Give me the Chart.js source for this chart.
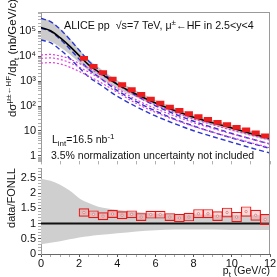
<!DOCTYPE html>
<html>
<head>
<meta charset="utf-8">
<script src="https://cdn.jsdelivr.net/npm/chart.js@4.4.0/dist/chart.umd.min.js"></script>
<style>
  html, body { margin: 0; padding: 0; background: #fff; }
  #wrap { position: relative; width: 277px; height: 277px; overflow: hidden; }
  .pane { position: absolute; left: 0; }
  #top { top: 0; }
  #bot { top: 160px; }
</style>
</head>
<body>
<div id="wrap">
  <div class="pane" id="top"><canvas id="spec" width="277" height="170"></canvas></div>
  <div class="pane" id="bot"><canvas id="ratio" width="277" height="117"></canvas></div>
</div>
<script>
const FONT = '"Liberation Sans", Arial, sans-serif';

// FONLL curves, sampled in pt (GeV/c)
const curvePt  = [0, 0.5, 1, 1.5, 2, 2.5, 3, 4, 5, 6, 7, 8, 9, 10, 11, 12];
const fonllC   = [141000, 105000, 55000, 25100, 10500, 4470, 2400, 741, 295, 132, 66, 35.5, 21.4, 13.2, 7.9, 5.0];
const fonllHi  = [347000, 251000, 125000, 52000, 19000, 7400, 3700, 1070, 407, 175, 87, 46, 27.5, 17, 10, 6.3];
const fonllLo  = [45700, 39000, 23000, 12000, 5600, 2570, 1480, 500, 219, 102, 52, 28, 17, 10.5, 6.3, 4.0];
const charmC   = [132000, 98000, 48000, 20000, 7600, 2950, 1510, 417, 151, 63, 30, 15.8, 8.9, 5.2, 3.2, 2.0];
const charmHi  = [324000, 245000, 120000, 47900, 17400, 6310, 3020, 759, 257, 102, 47.9, 24.5, 13.8, 7.9, 4.8, 3.0];
const charmLo  = [44700, 34700, 18200, 8320, 3470, 1480, 813, 245, 93, 40, 19.5, 10.2, 5.9, 3.5, 2.1, 1.3];
const beautyC  = [8130, 8510, 7410, 5500, 3630, 2290, 1410, 500, 178, 79, 40, 21.4, 12.6, 7.6, 4.8, 3.0];
const beautyHi = [11200, 11700, 10200, 7760, 5130, 3310, 2040, 724, 257, 112, 56, 30, 17.8, 10.7, 6.8, 4.3];
const beautyLo = [5250, 5500, 4900, 3630, 2450, 1580, 1000, 355, 126, 56, 28, 15.1, 8.9, 5.4, 3.4, 2.1];

// FONLL relative uncertainty for the ratio panel
const ratioBandHi = [2.47, 2.40, 2.27, 2.08, 1.83, 1.67, 1.55, 1.45, 1.38, 1.33, 1.31, 1.30, 1.29, 1.28, 1.27, 1.27];
const ratioBandLo = [0.32, 0.37, 0.42, 0.48, 0.54, 0.58, 0.62, 0.68, 0.74, 0.78, 0.80, 0.80, 0.80, 0.79, 0.79, 0.79];

// measured points (bin centres)
const binPt    = [2.25, 2.75, 3.25, 3.75, 4.25, 4.75, 5.25, 5.75, 6.25, 6.75, 7.25, 7.75, 8.25, 8.75, 9.25, 9.75, 10.25, 10.75, 11.25, 11.75];
const dataVal  = [8100, 3900, 2200, 1200, 710, 450, 290, 190, 130, 90, 66, 49, 37, 29, 22, 18, 14, 11, 8.4, 6.3];
const dataSys  = [0.25, 0.25, 0.25, 0.25, 0.25, 0.25, 0.25, 0.25, 0.25, 0.25, 0.25, 0.25, 0.25, 0.25, 0.25, 0.25, 0.25, 0.25, 0.25, 0.25];
const ratioVal = [1.36, 1.30, 1.24, 1.31, 1.27, 1.30, 1.21, 1.29, 1.29, 1.21, 1.18, 1.21, 1.32, 1.32, 1.24, 1.36, 1.21, 1.39, 1.27, 1.13];
const ratioSys = [0.14, 0.13, 0.13, 0.13, 0.13, 0.13, 0.13, 0.13, 0.13, 0.13, 0.14, 0.14, 0.15, 0.15, 0.16, 0.16, 0.17, 0.17, 0.18, 0.18];

const unityPt = [0, 12];
const unityVal = [1, 1];

const logTickLabels = ['1', '10', '10\u00b2', '10\u00b3', '10\u2074', '10\u2075'];
const ratioTickLabels = ['0', '0.5', '1', '1.5', '2', '2.5'];
const ptTickLabels = ['0', '2', '4', '6', '8', '10', '12'];

const xy = (xs, ys) => xs.map((x, i) => ({ x, y: ys[i] }));

// text with sub/superscripts: parts = [[text, 'n'|'u'|'d'], ...]
function rich(ctx, parts, x, y, size, align) {
  const fontFor = m => (m === 'n' ? size : Math.round(size * 0.72)) + 'px ' + FONT;
  let w = 0;
  parts.forEach(([t, m]) => { ctx.font = fontFor(m); w += ctx.measureText(t).width; });
  let cx = align === 'center' ? x - w / 2 : align === 'right' ? x - w : x;
  ctx.textAlign = 'left';
  ctx.textBaseline = 'alphabetic';
  parts.forEach(([t, m]) => {
    ctx.font = fontFor(m);
    const dy = m === 'u' ? -size * 0.42 : m === 'd' ? size * 0.28 : 0;
    ctx.fillText(t, cx, y + dy);
    cx += ctx.measureText(t).width;
  });
}

const specDeco = {
  id: 'specDeco',
  afterDraw(chart) {
    const { ctx, chartArea: a } = chart;
    ctx.save();
    ctx.strokeStyle = '#9a9a9a';
    ctx.lineWidth = 1;
    ctx.beginPath();
    ctx.moveTo(a.left, a.top + 0.5); ctx.lineTo(a.right, a.top + 0.5);
    ctx.moveTo(a.right - 0.5, a.top); ctx.lineTo(a.right - 0.5, a.bottom + 4);
    ctx.stroke();
    ctx.fillStyle = '#111';
    rich(ctx, [['ALICE pp  \u221as=7 TeV, \u03bc', 'n'], ['\u00b1', 'u'], ['\u2190HF in 2.5<y<4', 'n']], 64, 29, 10.7, 'left');
    rich(ctx, [['L', 'n'], ['int', 'd'], ['=16.5 nb', 'n'], ['-1', 'u']], 52, 143, 10.5, 'left');
    rich(ctx, [['3.5% normalization uncertainty not included', 'n']], 51, 159, 10.5, 'left');
    ctx.translate(16, 58);
    ctx.rotate(-Math.PI / 2);
    rich(ctx, [['d\u03c3', 'n'], ['\u03bc\u00b1\u2190HF', 'u'], ['/dp', 'n'], ['t', 'd'], [' (nb/GeV/c)', 'n']], 0, 0, 11.5, 'center');
    ctx.restore();
  }
};

const ratioDeco = {
  id: 'ratioDeco',
  afterDraw(chart) {
    const { ctx, chartArea: a } = chart;
    ctx.save();
    ctx.strokeStyle = '#9a9a9a';
    ctx.lineWidth = 1;
    ctx.beginPath();
    ctx.moveTo(a.right - 0.5, 0); ctx.lineTo(a.right - 0.5, a.bottom);
    ctx.stroke();
    ctx.fillStyle = '#111';
    rich(ctx, [['p', 'n'], ['t', 'd'], [' (GeV/c)', 'n']], 270, 114, 10.5, 'right');
    ctx.translate(15, 38);
    ctx.rotate(-Math.PI / 2);
    rich(ctx, [['data/FONLL', 'n']], 0, 0, 11, 'center');
    ctx.restore();
  }
};

const isPow10 = v => Math.abs(Math.log10(v) - Math.round(Math.log10(v))) < 1e-9;

const line = (data, color, dash, width) => ({
  type: 'line', data, borderColor: color, borderDash: dash, borderWidth: width,
  pointRadius: 0, fill: false, cubicInterpolationMode: 'monotone'
});

new Chart(document.getElementById('spec'), {
  type: 'line',
  data: {
    datasets: [
      {
        type: 'bar',
        data: binPt.map((x, i) => ({ x, y: [dataVal[i] / (1 + dataSys[i]), dataVal[i] * (1 + dataSys[i])] })),
        backgroundColor: '#ee1c1c', borderWidth: 0, barPercentage: 0.85, categoryPercentage: 1
      },
      line(xy(curvePt, fonllC), '#000', [], 1.6),
      line(xy(curvePt, beautyC), '#e23fe2', [2, 2], 1.2),
      line(xy(curvePt, beautyHi), '#e23fe2', [2, 2], 1.2),
      line(xy(curvePt, beautyLo), '#e23fe2', [2, 2], 1.2),
      line(xy(curvePt, charmC), '#2b35d0', [5, 3], 1.4),
      line(xy(curvePt, charmHi), '#2b35d0', [5, 3], 1.4),
      line(xy(curvePt, charmLo), '#2b35d0', [5, 3], 1.4),
      {
        type: 'line', data: xy(curvePt, fonllHi), borderWidth: 0, pointRadius: 0,
        fill: '+1', backgroundColor: '#cbcbcb', cubicInterpolationMode: 'monotone'
      },
      {
        type: 'line', data: xy(curvePt, fonllLo), borderWidth: 0, pointRadius: 0,
        fill: false, cubicInterpolationMode: 'monotone'
      }
    ]
  },
  options: {
    responsive: false,
    animation: false,
    events: [],
    layout: { padding: { left: 0, right: 7, top: 12, bottom: 0 }, autoPadding: false },
    plugins: { legend: { display: false }, tooltip: { enabled: false } },
    scales: {
      x: {
        type: 'linear', min: 0, max: 12, offset: false,
        afterFit: s => { s.height = 3; },
        border: { display: false },
        grid: { drawOnChartArea: false, offset: false, tickLength: 3, color: '#b0b0b0' },
        ticks: { display: false, stepSize: 1, autoSkip: false }
      },
      y: {
        type: 'logarithmic', min: 0.64, max: 5.9e5,
        afterFit: s => { s.width = 41; },
        border: { display: true, color: '#9a9a9a' },
        grid: {
          drawOnChartArea: false, tickLength: 3,
          color: c => (c.tick && isPow10(c.tick.value) ? '#555' : '#b0b0b0')
        },
        ticks: {
          autoSkip: false, padding: 2, color: '#111',
          font: { family: FONT, size: 11 },
          callback: v => (isPow10(v) ? logTickLabels[Math.round(Math.log10(v))] : '')
        }
      }
    }
  },
  plugins: [specDeco]
});

new Chart(document.getElementById('ratio'), {
  type: 'line',
  data: {
    datasets: [
      {
        type: 'line', data: xy(binPt, ratioVal), showLine: false,
        pointRadius: 1.2, pointBorderWidth: 1, pointBorderColor: '#d98a8a', pointBackgroundColor: '#fbe3e3'
      },
      {
        type: 'bar',
        data: binPt.map((x, i) => ({ x, y: [ratioVal[i] - ratioSys[i], ratioVal[i] + ratioSys[i]] })),
        backgroundColor: 'rgba(255,150,150,0.35)', borderColor: '#e51616', borderWidth: 1.2,
        borderSkipped: false, barPercentage: 1.1, categoryPercentage: 1
      },
      line(xy(unityPt, unityVal), '#111', [], 2),
      {
        type: 'line', data: xy(curvePt, ratioBandHi), borderWidth: 0, pointRadius: 0,
        fill: '+1', backgroundColor: '#cfcfcf', cubicInterpolationMode: 'monotone'
      },
      {
        type: 'line', data: xy(curvePt, ratioBandLo), borderWidth: 0, pointRadius: 0,
        fill: false, cubicInterpolationMode: 'monotone'
      }
    ]
  },
  options: {
    responsive: false,
    animation: false,
    events: [],
    layout: { padding: { left: 0, right: 7, top: 8, bottom: 0 }, autoPadding: false },
    plugins: { legend: { display: false }, tooltip: { enabled: false } },
    scales: {
      x: {
        type: 'linear', min: 0, max: 12, offset: false,
        afterFit: s => { s.height = 23; },
        border: { display: true, color: '#666' },
        grid: {
          drawOnChartArea: false, offset: false, tickLength: 3,
          color: c => (c.tick && Math.abs(c.tick.value / 2 - Math.round(c.tick.value / 2)) < 1e-6 ? '#555' : '#aaa')
        },
        ticks: {
          stepSize: 0.5, autoSkip: false, maxRotation: 0, padding: 0, color: '#111',
          font: { family: FONT, size: 11 },
          callback: v => (Math.abs(v / 2 - Math.round(v / 2)) < 1e-6 ? ptTickLabels[Math.round(v / 2)] : '')
        }
      },
      y: {
        type: 'linear', min: 0, max: 2.8,
        afterFit: s => { s.width = 41; },
        border: { display: true, color: '#9a9a9a' },
        grid: {
          drawOnChartArea: false, tickLength: 3,
          color: c => (c.tick && Math.abs(c.tick.value * 2 - Math.round(c.tick.value * 2)) < 1e-6 ? '#555' : '#b0b0b0')
        },
        ticks: {
          stepSize: 0.1, autoSkip: false, padding: 2, color: '#111',
          font: { family: FONT, size: 11 },
          callback: v => (Math.abs(v * 2 - Math.round(v * 2)) < 1e-6 ? ratioTickLabels[Math.round(v * 2)] : '')
        }
      }
    }
  },
  plugins: [ratioDeco]
});
</script>
</body>
</html>
